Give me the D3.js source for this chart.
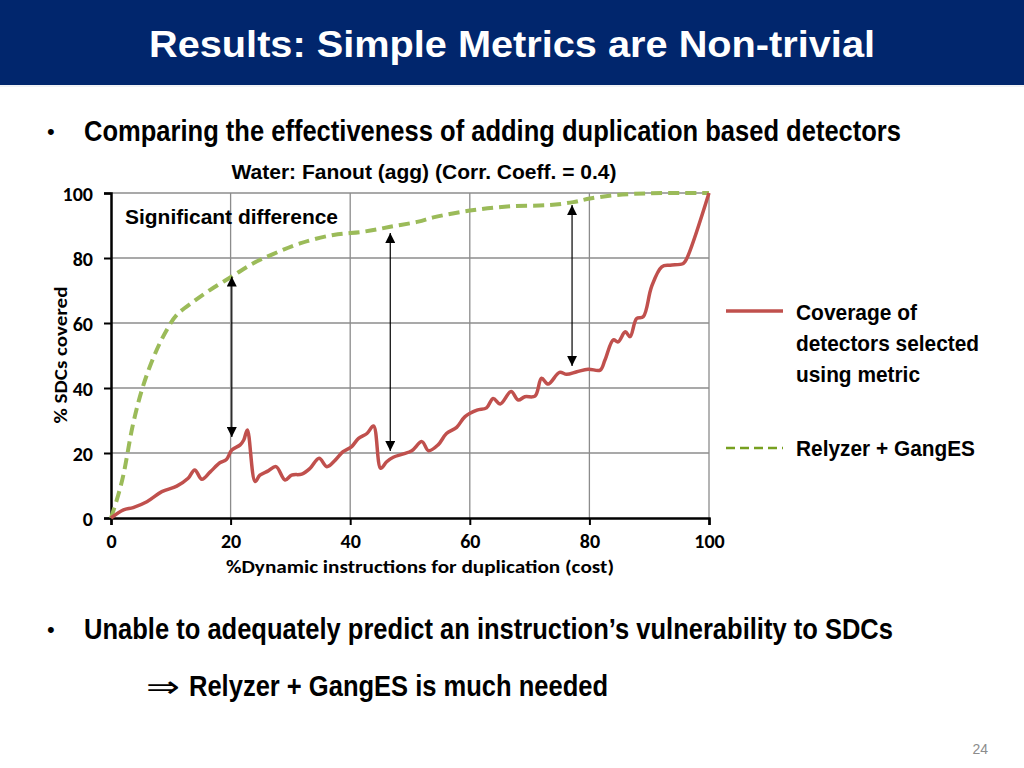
<!DOCTYPE html>
<html><head><meta charset="utf-8">
<script src="https://cdn.jsdelivr.net/npm/d3@7"></script>
<style>
html,body{margin:0;padding:0;background:#fff;}
svg{display:block;}
</style></head>
<body>
<svg id="c" width="1024" height="768"></svg>
<script>
// ---- data ----
const xTicks = [0, 20, 40, 60, 80, 100];
const yTicks = [0, 20, 40, 60, 80, 100];
const metricX = [0, 2.1, 3.7, 6.0, 8.5, 11.0, 12.9, 14.0, 15.2, 16.6, 18.2, 19.3, 20.2, 21.6, 22.2, 22.8, 24.1, 24.9, 26.3, 27.6, 29.1, 30.2, 31.9, 33.3, 34.8, 36.1, 37.5, 38.8, 40.2, 41.4, 42.8, 43.9, 45.1, 46.1, 47.2, 48.9, 50.3, 52.0, 53.1, 54.7, 56.1, 57.8, 59.2, 61.2, 62.8, 63.9, 65.1, 66.9, 68.1, 69.2, 70.9, 72.0, 73.1, 75.0, 76.2, 77.9, 79.8, 81.8, 82.6, 84.0, 84.8, 86.0, 86.8, 87.9, 89.0, 90.4, 92.1, 93.5, 95.7, 96.3, 100];
const metricY = [0, 2.5, 3.2, 5.0, 8.1, 9.8, 12.2, 14.8, 11.9, 14.2, 17.0, 18.0, 20.9, 22.5, 24.0, 27.1, 11.2, 13.2, 14.5, 15.8, 11.7, 13.2, 13.5, 15.3, 18.4, 15.8, 17.8, 20.4, 21.9, 24.5, 26.0, 28.3, 15.3, 17.3, 18.7, 19.7, 20.7, 23.5, 20.7, 22.5, 26.0, 27.9, 31.2, 33.2, 33.9, 36.8, 35.1, 38.9, 36.3, 37.3, 37.5, 43.0, 41.2, 44.8, 44.2, 45.0, 45.8, 45.5, 48.6, 54.8, 54.2, 57.3, 55.8, 61.4, 61.9, 71.2, 77.3, 77.8, 78.3, 79.9, 100];
const relyzerX = [0, 1.2, 2.1, 3.7, 5.4, 7.4, 9.3, 11.0, 13.8, 16.6, 20.2, 23.8, 27.1, 31.6, 37.2, 42.2, 46.7, 51.4, 53.9, 60.0, 66.7, 73.4, 77.3, 80.1, 84.6, 90.1, 100];
const relyzerY = [0, 7.0, 13.5, 29.0, 40.8, 50.7, 57.8, 62.5, 66.6, 70.2, 74.3, 78.4, 81.2, 84.5, 87.1, 88.1, 89.6, 91.2, 92.5, 94.6, 95.9, 96.3, 97.2, 98.3, 99.4, 99.9, 100];
const arrowX = [20.2, 46.7, 77.1];
const arrowTop = [74.3, 87.7, 96.3];
const arrowBottom = [24.9, 20.6, 46.8];
const seriesNames = ["Coverage of|detectors selected|using metric", "Relyzer + GangES"];

// ---- drawing ----
const svg = d3.select("#c");
const narrow = "'Liberation Sans Narrow','Arial Narrow','Liberation Sans',Arial,sans-serif";
const calibri = "Carlito, Lato, 'Open Sans', sans-serif";

// header
svg.append("rect").attr("x",0).attr("y",0).attr("width",1024).attr("height",85).attr("fill","#01266d");
svg.append("line").attr("x1",0).attr("x2",1024).attr("y1",86).attr("y2",86).attr("stroke","#e3e6ee").attr("stroke-width",1);
svg.append("text").attr("x",512).attr("y",57).attr("text-anchor","middle")
  .attr("fill","#fff").attr("font-family",narrow).attr("font-weight","bold").attr("font-size",37)
  .attr("textLength",726).attr("lengthAdjust","spacingAndGlyphs")
  .text("Results: Simple Metrics are Non-trivial");

function bullet(y, txt, len){
  svg.append("text").attr("x",47).attr("y",y+8).attr("fill","#000").attr("font-family","Liberation Sans,Arial,sans-serif").attr("font-size",22).text("•");
  svg.append("text").attr("x",84).attr("y",y+10).attr("fill","#000").attr("font-family",narrow)
    .attr("font-weight","bold").attr("font-size",29).attr("textLength",len).attr("lengthAdjust","spacingAndGlyphs").text(txt);
}
bullet(131, "Comparing the effectiveness of adding duplication based detectors", 817);
bullet(629, "Unable to adequately predict an instruction\u2019s vulnerability to SDCs", 809);
svg.append("text").attr("x",146).attr("y",697).attr("font-family","DejaVu Sans,sans-serif").attr("font-size",30)
  .attr("textLength",34).attr("lengthAdjust","spacingAndGlyphs").text("\u21D2");
svg.append("text").attr("x",189).attr("y",696).attr("font-family",narrow).attr("font-weight","bold")
  .attr("font-size",29).attr("textLength",419).attr("lengthAdjust","spacingAndGlyphs").text("Relyzer + GangES is much needed");
svg.append("text").attr("x",988).attr("y",754).attr("text-anchor","end").attr("fill","#8c8c8c")
  .attr("font-family","Liberation Sans,Arial,sans-serif").attr("font-size",14).text("24");

// chart
const x = d3.scaleLinear().domain([0,100]).range([111,709]);
const y = d3.scaleLinear().domain([0,100]).range([518,193]);

svg.append("text").attr("x",424).attr("y",179).attr("text-anchor","middle").attr("font-family",narrow)
  .attr("font-weight","bold").attr("font-size",21).attr("textLength",385).attr("lengthAdjust","spacingAndGlyphs")
  .text("Water: Fanout (agg) (Corr. Coeff. = 0.4)");

// gridlines
const g = svg.append("g");
g.selectAll(".hg").data(yTicks.filter(d=>d>0)).enter().append("line")
  .attr("x1",x(0)).attr("x2",x(100)).attr("y1",d=>y(d)).attr("y2",d=>y(d)).attr("stroke","#8c8c8c").attr("stroke-width",1.3);
g.selectAll(".vg").data(xTicks.filter(d=>d>0)).enter().append("line")
  .attr("y1",y(0)).attr("y2",y(100)).attr("x1",d=>x(d)).attr("x2",d=>x(d)).attr("stroke","#8c8c8c").attr("stroke-width",1.3);

// axes
const yAxis = svg.append("g").attr("transform",`translate(${x(0)},0)`)
  .call(d3.axisLeft(y).tickValues(yTicks).tickSize(7).tickPadding(11));
const xAxis = svg.append("g").attr("transform",`translate(0,${y(0)})`)
  .call(d3.axisBottom(x).tickValues(xTicks).tickSize(7).tickPadding(12));
[yAxis,xAxis].forEach(a=>{
  a.attr("font-size",20);
  a.select(".domain").attr("stroke","#000").attr("stroke-width",2.5);
  a.selectAll(".tick line").attr("stroke","#000").attr("stroke-width",2);
  a.selectAll(".tick text").attr("fill","#000").attr("font-family",calibri).attr("font-weight",900).style("font-size","20px");
});
yAxis.selectAll(".tick text").attr("dy","0.35em");
xAxis.selectAll(".tick text").attr("dy","0.55em");

svg.append("text").attr("x",420).attr("y",573).attr("text-anchor","middle").attr("font-family",calibri)
  .attr("font-weight",900).attr("font-size",17).attr("textLength",388).attr("lengthAdjust","spacingAndGlyphs")
  .text("%Dynamic instructions for duplication (cost)");
svg.append("text").attr("transform","translate(67,355) rotate(-90)").attr("text-anchor","middle").attr("font-family",calibri)
  .attr("font-weight",900).attr("font-size",18).attr("textLength",137).attr("lengthAdjust","spacingAndGlyphs")
  .text("% SDCs covered");

// series
const line = d3.line().x(d=>x(d[0])).y(d=>y(d[1])).curve(d3.curveCatmullRom.alpha(0.5));
svg.append("path").datum(relyzerX.map((v,i)=>[v,relyzerY[i]])).attr("d",line)
  .attr("fill","none").attr("stroke","#9bbb59").attr("stroke-width",4).attr("stroke-dasharray","11,6");
svg.append("path").datum(metricX.map((v,i)=>[v,metricY[i]])).attr("d",line)
  .attr("fill","none").attr("stroke","#c0504d").attr("stroke-width",3.5).attr("stroke-linejoin","round");

// arrows
const defs = svg.append("defs");
defs.append("marker").attr("id","ah").attr("viewBox","0 0 10 10").attr("refX",10).attr("refY",5)
  .attr("markerWidth",10).attr("markerHeight",10).attr("markerUnits","userSpaceOnUse").attr("orient","auto-start-reverse")
  .append("path").attr("d","M0,0 L10,5 L0,10 Z").attr("fill","#000");
svg.selectAll(".arr").data(arrowX).enter().append("line")
  .attr("x1",d=>x(d)).attr("x2",d=>x(d))
  .attr("y1",(d,i)=>y(arrowTop[i])).attr("y2",(d,i)=>y(arrowBottom[i]))
  .attr("stroke","#000").attr("stroke-width",1.2)
  .attr("marker-start","url(#ah)").attr("marker-end","url(#ah)");

svg.append("text").attr("x",125).attr("y",224).attr("font-family",narrow).attr("font-weight","bold")
  .attr("font-size",21).attr("textLength",213).attr("lengthAdjust","spacingAndGlyphs").text("Significant difference");

// legend
const lg = svg.append("g");
lg.append("line").attr("x1",726).attr("x2",783).attr("y1",311).attr("y2",311).attr("stroke","#c0504d").attr("stroke-width",3.5);
lg.append("line").attr("x1",726).attr("x2",783).attr("y1",448).attr("y2",448).attr("stroke","#77a020").attr("stroke-width",2.5).attr("stroke-dasharray","9,5");
const l1 = seriesNames[0].split("|");
const lw = [121, 183, 124];
l1.forEach((t,i)=>{
  lg.append("text").attr("x",796).attr("y",320+i*31).attr("font-family",narrow).attr("font-weight","bold")
    .attr("font-size",22).attr("textLength",lw[i]).attr("lengthAdjust","spacingAndGlyphs").text(t);
});
lg.append("text").attr("x",796).attr("y",456).attr("font-family",narrow).attr("font-weight","bold")
  .attr("font-size",22).attr("textLength",179).attr("lengthAdjust","spacingAndGlyphs").text(seriesNames[1]);
</script>
</body></html>
